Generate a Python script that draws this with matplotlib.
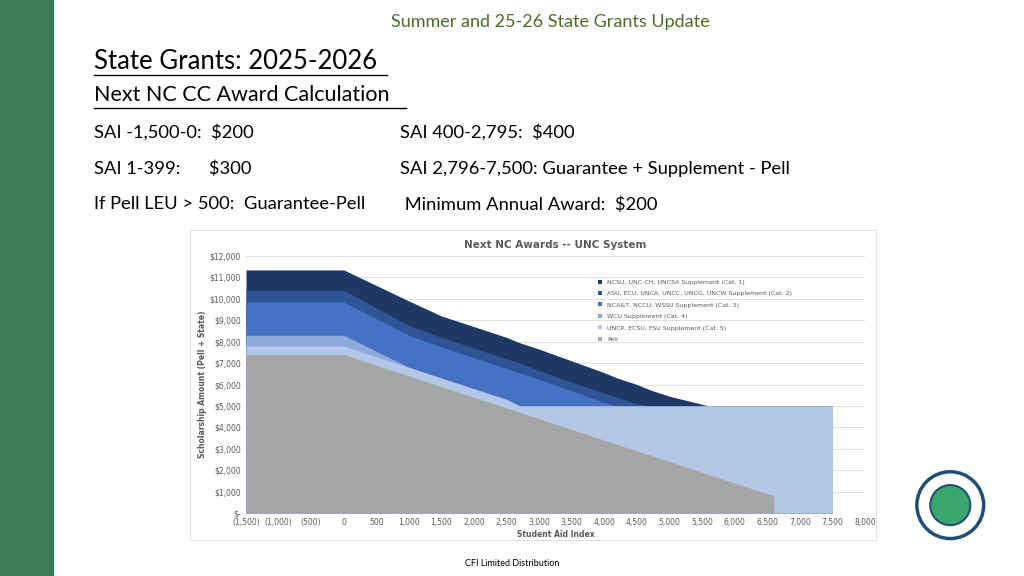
import matplotlib
matplotlib.use("Agg")
import matplotlib.pyplot as plt
from matplotlib.patches import Rectangle, Ellipse
from matplotlib.ticker import FuncFormatter

# Student Aid Index points
sai = [-1500, 0, 1000, 1500, 2000, 2500, 2700, 3000, 3500, 4000, 4200, 4500, 4700, 5000, 5600, 6000, 6500, 6600, 6601, 7000, 7500, 7501]
# cumulative tops (Pell + State) for each series
pell = [7400, 7400, 6400, 5900, 5400, 4900, 4700, 4400, 3900, 3400, 3200, 2900, 2700, 2400, 1800, 1400, 900, 800, 0, 0, 0, 0]
cat5 = [7800, 7800, 6800, 6300, 5800, 5300, 5000, 5000, 5000, 5000, 5000, 5000, 5000, 5000, 5000, 5000, 5000, 5000, 5000, 5000, 5000, 0]
cat4 = [8300, 8300, 6800, 6300, 5800, 5300, 5000, 5000, 5000, 5000, 5000, 5000, 5000, 5000, 5000, 5000, 5000, 5000, 5000, 5000, 5000, 0]
cat3 = [9850, 9850, 8300, 7750, 7250, 6750, 6550, 6250, 5700, 5150, 5000, 5000, 5000, 5000, 5000, 5000, 5000, 5000, 5000, 5000, 5000, 0]
cat2 = [10400, 10400, 8750, 8200, 7700, 7200, 7000, 6650, 6100, 5600, 5400, 5100, 5000, 5000, 5000, 5000, 5000, 5000, 5000, 5000, 5000, 0]
cat1 = [11350, 11350, 9900, 9200, 8700, 8200, 7950, 7650, 7100, 6550, 6300, 6000, 5750, 5450, 5000, 5000, 5000, 5000, 5000, 5000, 5000, 0]

series = [
    ("NCSU, UNC-CH, UNCSA Supplement (Cat. 1)", cat1, "#1f3864"),
    ("ASU, ECU, UNCA, UNCC, UNCG, UNCW Supplement (Cat. 2)", cat2, "#2f5597"),
    ("NCA&T, NCCU, WSSU Supplement (Cat. 3)", cat3, "#4472c4"),
    ("WCU Supplement (Cat. 4)", cat4, "#8faadc"),
    ("UNCP, ECSU, FSU Supplement (Cat. 5)", cat5, "#b4c7e7"),
    ("Pell", pell, "#a5a5a5"),
]
xticks = [-1500, -1000, -500, 0, 500, 1000, 1500, 2000, 2500, 3000, 3500, 4000, 4500, 5000, 5500, 6000, 6500, 7000, 7500, 8000]

FONT = "Lato"
fig = plt.figure(figsize=(10.24, 5.76), dpi=100)
fig.patch.set_facecolor("white")
fig.add_artist(Rectangle((0, 0), 53/1024, 1, transform=fig.transFigure, color="#3b7d56", zorder=-2))
fig.text(0.537, 0.962, "Summer and 25-26 State Grants Update", ha="center", va="center",
         fontsize=13, color="#4e6b2a", family=FONT)
fig.text(0.092, 0.893, "State Grants: 2025-2026", fontsize=18.5, family=FONT, va="center")
fig.text(0.092, 0.835, "Next NC CC Award Calculation", fontsize=15.5, family=FONT, va="center")
fig.add_artist(plt.Line2D([0.092, 0.378], [0.869, 0.869], color="black", lw=1, transform=fig.transFigure))
fig.add_artist(plt.Line2D([0.092, 0.396], [0.813, 0.813], color="black", lw=1, transform=fig.transFigure))
rows = [("SAI -1,500-0:  $200", "SAI 400-2,795:  $400", 0.770),
        ("SAI 1-399:      $300", "SAI 2,796-7,500: Guarantee + Supplement - Pell", 0.707),
        ("If Pell LEU > 500:  Guarantee-Pell", " Minimum Annual Award:  $200", 0.645)]
for a, b, y in rows:
    fig.text(0.092, y, a, fontsize=13.2, family=FONT, va="center")
    fig.text(0.391, y, b, fontsize=13.2, family=FONT, va="center")
fig.text(0.5, 0.018, "CFI Limited Distribution", ha="center", fontsize=6.5, family=FONT)

# logo placeholder
r = 0.058
fig.add_artist(Ellipse((0.928, 0.123), 2*r*576/1024, 2*r, transform=fig.transFigure, facecolor="white",
                       edgecolor="#1f4e79", lw=2.5, zorder=-1))
fig.add_artist(Ellipse((0.928, 0.123), 1.2*r*576/1024, 1.2*r, transform=fig.transFigure, facecolor="#3aa66b",
                       edgecolor="#1f4e79", lw=1.5, zorder=-1))

fig.add_artist(Rectangle((190/1024, 1-540/576), 686/1024, 310/576, transform=fig.transFigure,
                         facecolor="white", edgecolor="#e0e0e0", lw=0.8, zorder=-1))

ax = fig.add_axes([246/1024, 1-513/576, 619/1024, 257/576])
ax.patch.set_alpha(0)
for label, vals, col in series:
    ax.fill_between(sai, 0, vals, color=col, lw=0, label=label)
ax.set_xlim(-1500, 8000)
ax.set_ylim(0, 12000)
ax.set_xticks(xticks)
ax.set_yticks(range(0, 12001, 1000))
ax.xaxis.set_major_formatter(FuncFormatter(lambda v, p: f"({abs(v):,.0f})" if v < 0 else f"{v:,.0f}"))
ax.yaxis.set_major_formatter(FuncFormatter(lambda v, p: "$-" if v == 0 else f"${v:,.0f}"))
ax.tick_params(labelsize=5.5, length=0, colors="#595959")
ax.grid(axis="y", color="#d9d9d9", lw=0.6)
ax.set_axisbelow(True)
for s in ax.spines.values():
    s.set_visible(False)
ax.set_title("Next NC Awards -- UNC System", fontsize=7.5, color="#595959", fontweight="bold", pad=6)
ax.set_xlabel("Student Aid Index", fontsize=5.5, color="#595959", fontweight="bold", labelpad=2)
ax.set_ylabel("Scholarship Amount (Pell + State)", fontsize=5.5, color="#595959", fontweight="bold", labelpad=2)
ax.legend(loc="upper left", bbox_to_anchor=(0.56, 0.93), fontsize=4.5, frameon=False,
          handlelength=0.6, handleheight=0.6, labelspacing=1.0, labelcolor="#595959")
fig.savefig("out.png", dpi=100)
